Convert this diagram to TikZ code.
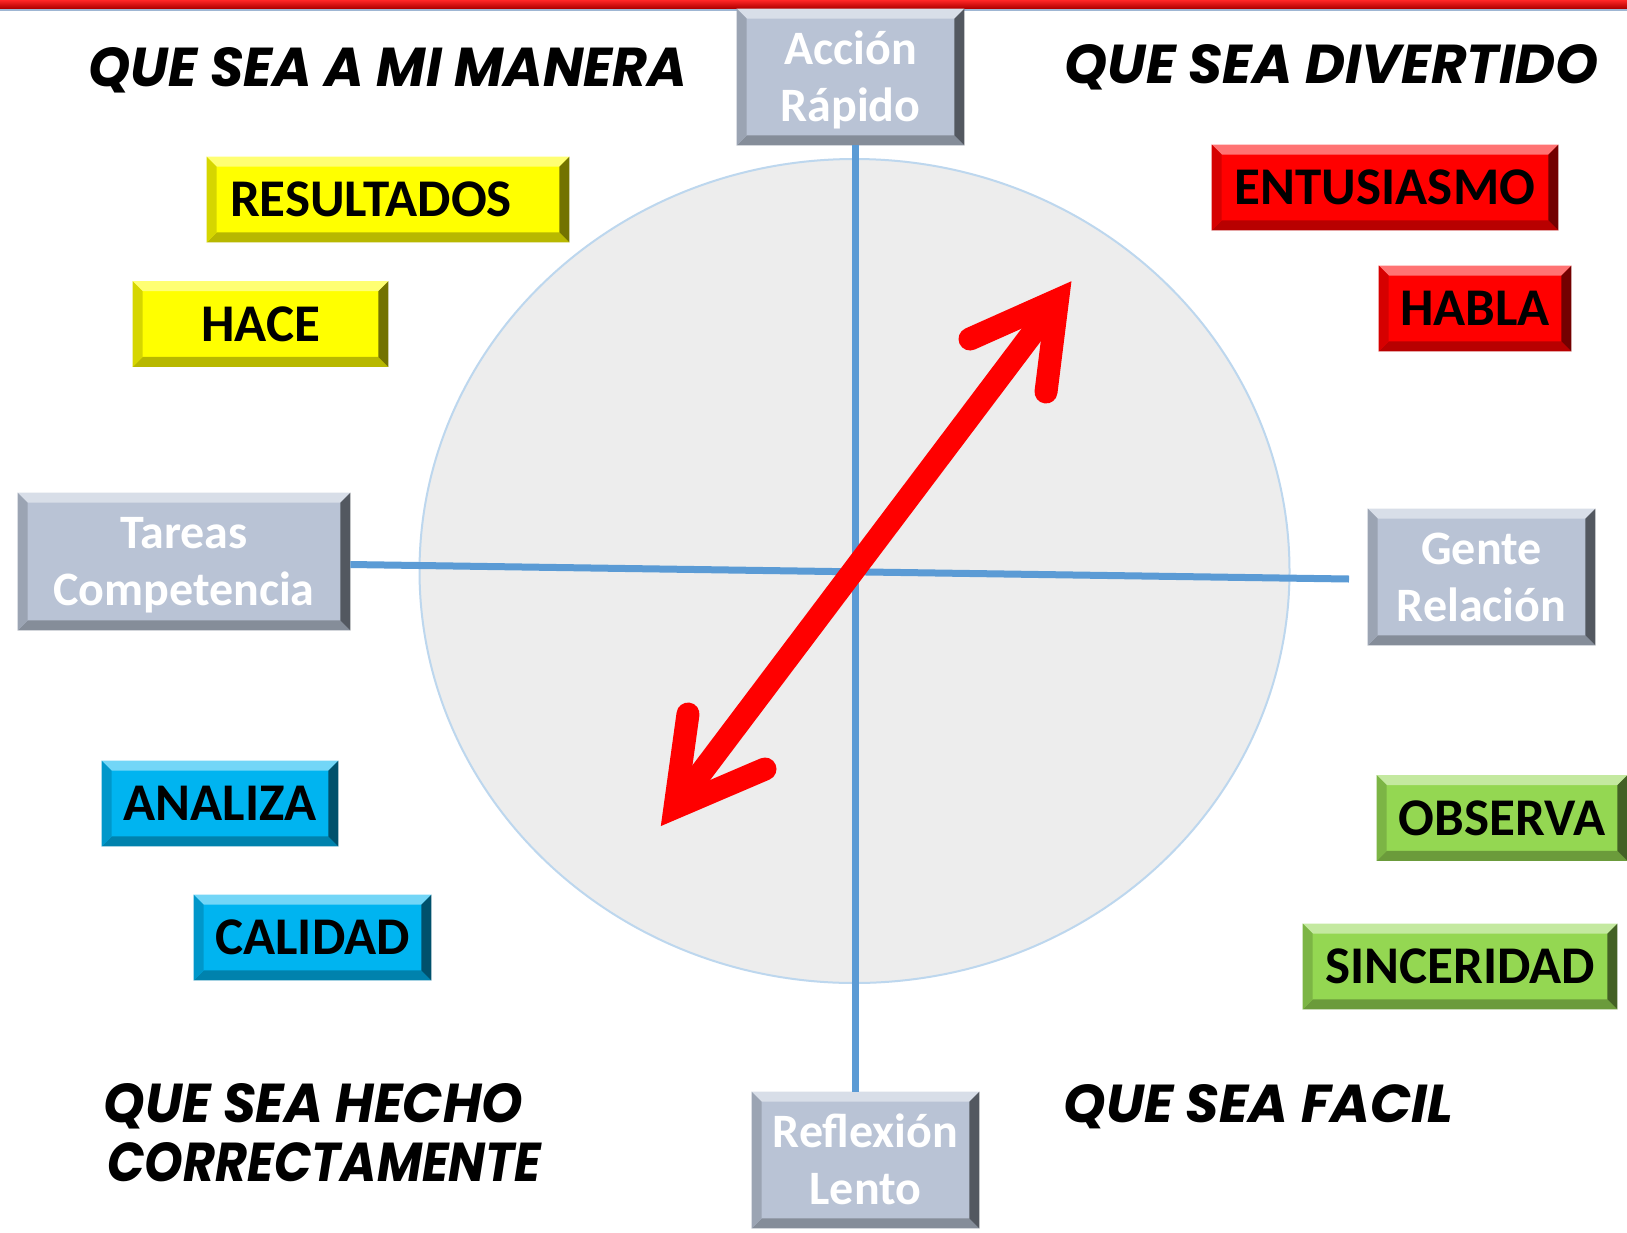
\documentclass[tikz,border=0pt]{standalone}
\usepackage{fontspec}
\usepackage{graphicx}
\usetikzlibrary{shapes.geometric}
\newfontfamily\calfont{Carlito}
\newfontfamily\comicfont{Poppins}
\definecolor{gbox}{HTML}{B9C3D5}
\definecolor{tyellow}{HTML}{FFFF00}
\definecolor{tred}{HTML}{FF0000}
\definecolor{tcyan}{HTML}{00B4F0}
\definecolor{tgreen}{HTML}{94D752}
\definecolor{circfill}{HTML}{EDEDED}
\definecolor{circline}{HTML}{BDD7EE}
\definecolor{axisblue}{HTML}{5B9BD5}
\definecolor{arrowred}{HTML}{FF0000}
\definecolor{barred}{HTML}{E00000}
\definecolor{barline}{HTML}{9FB6D3}
\newcommand\bevbox[2]{%
 \fill[#2!55!white] (#1.north west) -- (#1.north east) -- ([shift={(-5pt,-5pt)}]#1.north east) -- ([shift={(5pt,-5pt)}]#1.north west) -- cycle;
 \fill[#2!72!black] (#1.south west) -- (#1.south east) -- ([shift={(-5pt,5pt)}]#1.south east) -- ([shift={(5pt,5pt)}]#1.south west) -- cycle;
 \fill[#2!84!black] (#1.north west) -- ([shift={(5pt,-5pt)}]#1.north west) -- ([shift={(5pt,5pt)}]#1.south west) -- (#1.south west) -- cycle;
 \fill[#2!45!black] (#1.north east) -- ([shift={(-5pt,-5pt)}]#1.north east) -- ([shift={(-5pt,5pt)}]#1.south east) -- (#1.south east) -- cycle;
}
\tikzset{
 graybox/.style={fill=gbox, text=white, font=\calfont\bfseries\fontsize{24}{28.5}\selectfont, align=center, inner sep=0pt, minimum width=113.5pt, minimum height=68pt},
 tagbox/.style={fill=#1, text=black, font=\calfont\bfseries\fontsize{26.5}{30}\selectfont, inner sep=0pt, minimum height=42.5pt},
 headtxt/.style={inner sep=0pt, anchor=base west, font=\comicfont\bfseries\itshape\fontsize{20}{24}\selectfont},
 axisline/.style={draw=axisblue, line width=3.5pt},
 redstroke/.style={draw=arrowred, line width=11.5pt},
}
\begin{document}
\begin{tikzpicture}[x=0.5pt,y=-0.5pt]
\useasboundingbox (0,0) rectangle (1627,1232);
\fill[white] (0,0) rectangle (1627,1232);
% top bar
\shade[top color=red!85!white, bottom color=barred!80!black] (0,0) rectangle (1627,8);
\draw[barline, line width=1pt] (0,9.5) -- (1627,9.5);
% circle
\node[ellipse, draw=circline, fill=circfill, line width=1pt, minimum width=435pt, minimum height=412pt, inner sep=0pt] (circ) at (854.5,571) {};
% boxes (gray)
\node[graybox] (acc) at (850.5,77) {\smash{Acción}\vphantom{T}\\\smash{Rápido}};
\node[graybox, minimum width=166pt, minimum height=68.5pt] (tar) at (184,561.5) {\smash{Tareas}\vphantom{T}\\\smash{Competencia}};
\node[graybox] (gen) at (1481.5,577) {\smash{Gente}\vphantom{T}\\\smash{Relación}};
\node[graybox] (ref) at (865.5,1160) {\smash{Reflexión}\vphantom{T}\\\smash{Lento}};
\bevbox{acc}{gbox}\bevbox{tar}{gbox}\bevbox{gen}{gbox}\bevbox{ref}{gbox}
% axes
\coordinate (cross) at (855,572);
\coordinate (hend) at (1349,579);
\draw[axisline] (acc.south -| cross) -- (ref.north -| cross);
\draw[axisline] ([yshift=-1.5pt]tar.east) -- (hend);
% red double arrow
\coordinate (tA) at (1057.5,300);
\coordinate (aL) at (970,339);
\coordinate (aR) at (1046,392);
\coordinate (tB) at (675,807.5);
\coordinate (bU) at (688,714);
\coordinate (bR) at (765,769);
\draw[redstroke] (tA) -- (tB);
\draw[redstroke, line cap=round, line join=miter] (aL) -- (tA) -- (aR);
\draw[redstroke, line cap=round, line join=miter] (bU) -- (tB) -- (bR);
% coloured tags
\node[tagbox=tyellow, minimum width=181pt] (res) at (388,199.5) {\makebox[181pt][l]{\hspace{11.5pt}RESULTADOS}};
\node[tagbox=tyellow, minimum width=127.5pt] (hac) at (260.5,324) {HACE};
\node[tagbox=tred, minimum width=173pt] (ent) at (1385,187.5) {ENTUSIASMO};
\node[tagbox=tred, minimum width=96pt] (hab) at (1475,308.5) {HABLA};
\node[tagbox=tcyan, minimum width=118pt] (ana) at (220,803.5) {ANALIZA};
\node[tagbox=tcyan, minimum width=118.5pt] (cal) at (312.5,937.5) {CALIDAD};
\node[tagbox=tgreen, minimum width=125pt] (obs) at (1502,818) {OBSERVA};
\node[tagbox=tgreen, minimum width=157pt] (sin) at (1460,966.5) {SINCERIDAD};
\bevbox{res}{tyellow}\bevbox{hac}{tyellow}\bevbox{ent}{tred}\bevbox{hab}{tred}
\bevbox{ana}{tcyan}\bevbox{cal}{tcyan}\bevbox{obs}{tgreen}\bevbox{sin}{tgreen}
% headings
\node[headtxt] (h1) at (88,86) {\resizebox{299.5pt}{19.5pt}{QUE SEA A MI MANERA}};
\node[headtxt] (h2) at (1064,83) {\resizebox{267pt}{19.5pt}{QUE SEA DIVERTIDO}};
\node[headtxt] (h3) at (103,1122) {\resizebox{210pt}{19.5pt}{QUE SEA HECHO}};
\node[headtxt] (h4) at (107,1181) {\resizebox{217pt}{19.5pt}{CORRECTAMENTE}};
\node[headtxt] (h5) at (1063,1122) {\resizebox{195pt}{19pt}{QUE SEA FACIL}};
\end{tikzpicture}
\end{document}
